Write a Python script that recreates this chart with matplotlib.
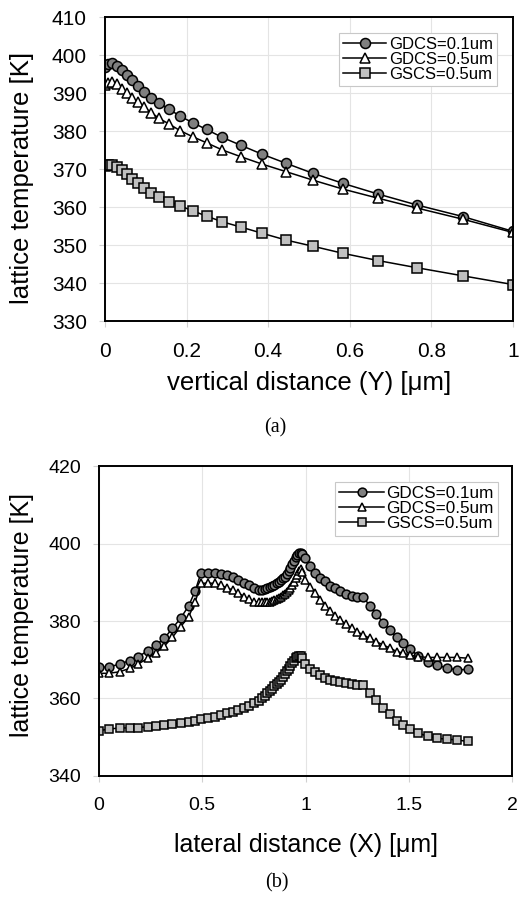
import matplotlib
matplotlib.use('Agg')
import matplotlib.pyplot as plt
from matplotlib.ticker import MultipleLocator, FuncFormatter

plt.rcParams['font.family'] = ['Liberation Sans', 'DejaVu Sans']

labels = ['GDCS=0.1um', 'GDCS=0.5um', 'GSCS=0.5um']

# (a) temperature along the vertical cut
y_vert = [0.0, 0.008, 0.018, 0.029, 0.041, 0.053, 0.065, 0.080, 0.096, 0.114,
          0.133, 0.158, 0.184, 0.215, 0.249, 0.288, 0.334, 0.385, 0.444, 0.509,
          0.584, 0.670, 0.766, 0.877, 1.0]
ta_gdcs01 = [396.8, 397.6, 397.8, 397.1, 396.1, 394.7, 393.4, 391.8, 390.3, 388.8,
             387.3, 385.7, 383.9, 382.2, 380.4, 378.3, 376.2, 373.9, 371.5, 368.9,
             366.2, 363.4, 360.5, 357.5, 353.6]
ta_gdcs05 = [392.2, 392.7, 393.0, 392.3, 391.1, 389.9, 388.8, 387.6, 386.2, 384.8,
             383.3, 381.8, 380.1, 378.5, 376.9, 375.0, 373.2, 371.3, 369.3, 367.1,
             364.7, 362.3, 359.7, 356.8, 353.3]
ta_gscs05 = [370.8, 371.1, 371.1, 370.6, 369.7, 368.7, 367.5, 366.4, 365.1, 363.8,
             362.7, 361.4, 360.3, 359.0, 357.6, 356.1, 354.7, 353.1, 351.3, 349.7,
             347.8, 345.9, 344.0, 341.9, 339.6]

# (b) temperature along the lateral cut
x_lat = [0.000, 0.048, 0.100, 0.150, 0.190, 0.236, 0.276, 0.316, 0.355, 0.395,
         0.434, 0.466, 0.494, 0.529, 0.560, 0.591, 0.618, 0.647, 0.675, 0.704,
         0.728, 0.752, 0.775, 0.790, 0.803, 0.815, 0.827, 0.838, 0.849, 0.860,
         0.870, 0.880, 0.890, 0.900, 0.909, 0.918, 0.927, 0.936, 0.944, 0.952,
         0.960, 0.968, 0.976, 0.985, 0.998, 1.022, 1.046, 1.070, 1.094, 1.119,
         1.143, 1.167, 1.196, 1.224, 1.251, 1.280, 1.312, 1.341, 1.377, 1.409,
         1.442, 1.474, 1.506, 1.546, 1.591, 1.638, 1.687, 1.735, 1.785]
tb_gdcs01 = [368.1, 368.1, 368.9, 369.8, 370.8, 372.3, 373.8, 375.5, 378.1, 380.7,
             383.9, 387.8, 392.5, 392.5, 392.4, 392.1, 391.9, 391.3, 390.6, 389.9,
             389.2, 388.4, 388.0, 388.0, 388.2, 388.4, 388.7, 389.0, 389.4, 389.7,
             390.1, 390.5, 391.0, 391.4, 392.1, 392.8, 393.6, 394.6, 395.6, 396.4,
             397.1, 397.5, 397.6, 397.3, 396.3, 394.3, 392.5, 391.2, 390.2, 389.1,
             388.4, 387.7, 387.0, 386.5, 386.2, 386.1, 383.9, 381.9, 379.5, 377.6,
             375.8, 374.3, 372.7, 371.0, 369.5, 368.6, 367.8, 367.4, 367.5]
tb_gdcs05 = [366.5, 366.5, 366.9, 367.8, 368.9, 370.4, 371.8, 373.5, 375.8, 378.5,
             381.1, 385.0, 389.7, 389.8, 389.7, 389.2, 388.6, 388.0, 387.2, 386.3,
             385.6, 385.0, 384.8, 384.8, 384.8, 384.9, 385.0, 385.2, 385.4, 385.6,
             385.9, 386.2, 386.6, 387.0, 387.4, 388.0, 388.6, 389.3, 390.1, 391.0,
             391.9, 392.8, 393.3, 392.6, 390.6, 388.9, 387.1, 385.4, 383.9, 382.7,
             381.3, 380.3, 379.2, 378.1, 377.2, 376.4, 375.5, 374.7, 373.8, 373.0,
             372.1, 371.7, 371.2, 370.8, 370.6, 370.6, 370.6, 370.6, 370.4]
tb_gscs05 = [351.7, 352.1, 352.4, 352.4, 352.5, 352.7, 352.9, 353.1, 353.4, 353.7,
             354.0, 354.3, 354.6, 355.0, 355.3, 355.7, 356.2, 356.6, 357.0, 357.6,
             358.1, 358.8, 359.4, 360.0, 360.6, 361.3, 361.9, 362.5, 363.1, 363.7,
             364.3, 364.9, 365.6, 366.3, 367.0, 367.7, 368.4, 369.1, 369.8, 370.4,
             370.8, 371.0, 370.9, 370.4, 369.0, 367.6, 366.8, 366.0, 365.2, 364.9,
             364.5, 364.2, 363.9, 363.7, 363.5, 363.4, 361.5, 359.6, 357.6, 355.9,
             354.3, 353.1, 352.0, 351.0, 350.3, 349.7, 349.5, 349.3, 348.9]

markers = ['o', '^', 's']
fills = ['#808080', 'white', '#c0c0c0']

fig = plt.figure(figsize=(5.19, 9), dpi=100)
ax1 = fig.add_axes([0.2023, 0.6433, 0.786, 0.3378])
ax2 = fig.add_axes([0.1908, 0.1378, 0.7958, 0.3444])

fmt = FuncFormatter(lambda v, p: '%g' % v)


def style_axes(ax, ticksize):
    ax.grid(True, color='#e4e4e4', linewidth=0.8)
    ax.set_axisbelow(True)
    for s in ax.spines.values():
        s.set_linewidth(1.4)
        s.set_color('black')
    ax.tick_params(direction='out', length=4, color='#d0d0d0', width=0.8,
                   labelsize=ticksize)
    ax.tick_params(axis='x', pad=11)
    ax.tick_params(axis='y', pad=9)
    ax.xaxis.set_major_formatter(fmt)


# (a)
for t, m, fc in zip([ta_gdcs01, ta_gdcs05, ta_gscs05], markers, fills):
    ms = 7.2 if m == 'o' else 6.6
    ax1.plot(y_vert, t, color='black', linewidth=1.1, marker=m, markersize=ms,
             markerfacecolor=fc, markeredgecolor='black', markeredgewidth=1.1)
ax1.set_xlim(0, 1)
ax1.set_ylim(330, 410)
ax1.xaxis.set_major_locator(MultipleLocator(0.2))
ax1.yaxis.set_major_locator(MultipleLocator(10))
style_axes(ax1, 15)
ax1.set_xlabel('vertical distance (Y) [\u03bcm]', fontsize=18.5)
ax1.set_ylabel('lattice temperature [K]', fontsize=18.5)
ax1.xaxis.set_label_coords(0.5, -0.165)
ax1.yaxis.set_label_coords(-0.175, 0.47)
leg1 = ax1.legend(labels, loc='upper right', bbox_to_anchor=(0.961, 0.947),
                  borderaxespad=0, fontsize=12, handlelength=2.6,
                  handletextpad=0.15, labelspacing=0.0, borderpad=0.25,
                  fancybox=False, framealpha=1, numpoints=1)
leg1.get_frame().set_edgecolor('#c8c8c8')
leg1.get_frame().set_linewidth(0.8)

# (b)
for t, m, fc in zip([tb_gdcs01, tb_gdcs05, tb_gscs05], markers, fills):
    ms = 6.3 if m == 'o' else 5.9
    ax2.plot(x_lat, t, color='black', linewidth=1.1, marker=m, markersize=ms,
             markerfacecolor=fc, markeredgecolor='black', markeredgewidth=1.1)
ax2.set_xlim(0, 2)
ax2.set_ylim(340, 420)
ax2.xaxis.set_major_locator(MultipleLocator(0.5))
ax2.yaxis.set_major_locator(MultipleLocator(20))
style_axes(ax2, 14)
ax2.set_xlabel('lateral distance (X) [\u03bcm]', fontsize=18)
ax2.set_ylabel('lattice temperature [K]', fontsize=18)
ax2.xaxis.set_label_coords(0.5, -0.185)
ax2.yaxis.set_label_coords(-0.157, 0.52)
leg2 = ax2.legend(labels, loc='upper right', bbox_to_anchor=(0.966, 0.948),
                  borderaxespad=0, fontsize=12.3, handlelength=2.6,
                  handletextpad=0.15, labelspacing=0.0, borderpad=0.25,
                  fancybox=False, framealpha=1, numpoints=1)
leg2.get_frame().set_edgecolor('#c8c8c8')
leg2.get_frame().set_linewidth(0.8)

fig.text(275 / 519, 1 - 428 / 900, '(a)', family='Liberation Serif',
         fontsize=14.5, ha='center', va='center')
fig.text(277 / 519, 1 - 883 / 900, '(b)', family='Liberation Serif',
         fontsize=14.5, ha='center', va='center')

fig.savefig('out.png', dpi=100, facecolor='white')
